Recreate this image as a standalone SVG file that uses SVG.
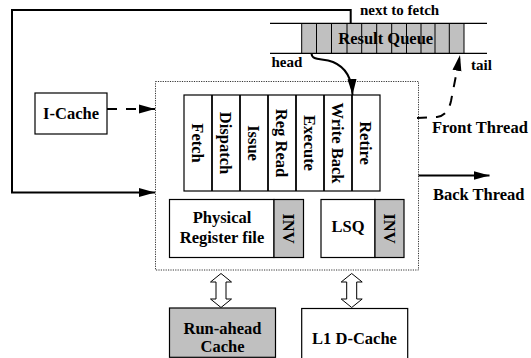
<svg xmlns="http://www.w3.org/2000/svg" width="531" height="358" viewBox="0 0 531 358">
  <style>
    text { font-family: "Liberation Serif", "Times New Roman", serif; font-weight: bold; fill: #000; }
    .lbl { font-size: 16.5px; }
    .sm { font-size: 15px; }
    .box { fill: #fff; stroke: #000; stroke-width: 1.2; }
    .gray { fill: #c0c0c0; stroke: #000; stroke-width: 1.2; }
    .div { stroke: #000; stroke-width: 1.8; }
    .wire { fill: none; stroke: #000; stroke-width: 2; }
    .dash { fill: none; stroke: #000; stroke-width: 2; stroke-dasharray: 10 9; }
    .dbl { fill: #fff; stroke: #000; stroke-width: 1; }
  </style>
  <defs>
    <marker id="head" markerUnits="userSpaceOnUse" markerWidth="16" markerHeight="10" refX="16" refY="5" orient="auto">
      <path d="M0,0.5 L16,5 L0,9.5 Z" fill="#000"/>
    </marker>
  </defs>

  <rect width="531" height="358" fill="#fff"/>

  <!-- core boundary (dotted) -->
  <g id="core">
    <rect x="155.5" y="81.5" width="263" height="188.5" fill="none" stroke="#333" stroke-width="1" stroke-dasharray="1.2 1.2"/>
  </g>

  <!-- result queue -->
  <g id="result-queue">
    <rect x="301.7" y="23.3" width="162.3" height="30" fill="#c0c0c0"/>
    <line x1="270" y1="23.3" x2="487" y2="23.3" stroke="#000" stroke-width="1.2"/>
    <line x1="270" y1="53.3" x2="487" y2="53.3" stroke="#000" stroke-width="1.2"/>
    <g stroke="#000" stroke-width="1">
      <line x1="301.7" y1="23.3" x2="301.7" y2="53.3"/>
      <line x1="316.5" y1="23.3" x2="316.5" y2="53.3"/>
      <line x1="331.5" y1="23.3" x2="331.5" y2="53.3"/>
      <line x1="347" y1="23.3" x2="347" y2="53.3"/>
      <line x1="361.7" y1="23.3" x2="361.7" y2="53.3"/>
      <line x1="376.7" y1="23.3" x2="376.7" y2="53.3"/>
      <line x1="391.7" y1="23.3" x2="391.7" y2="53.3"/>
      <line x1="406.5" y1="23.3" x2="406.5" y2="53.3"/>
      <line x1="421" y1="23.3" x2="421" y2="53.3"/>
      <line x1="435" y1="23.3" x2="435" y2="53.3"/>
      <line x1="449.3" y1="23.3" x2="449.3" y2="53.3"/>
      <line x1="464" y1="23.3" x2="464" y2="53.3"/>
    </g>
    <text class="lbl" x="385.7" y="43.5" text-anchor="middle" fill="#111">Result Queue</text>
    <text class="sm" x="360" y="15">next to fetch</text>
    <text class="sm" x="271.5" y="66.5">head</text>
    <text class="sm" x="471" y="69.5">tail</text>
  </g>

  <!-- I-Cache -->
  <g id="icache">
    <rect class="box" x="35" y="93" width="72" height="41"/>
    <text class="lbl" x="71" y="118.5" text-anchor="middle">I-Cache</text>
  </g>

  <!-- pipeline stages -->
  <g id="pipeline">
    <rect class="box" x="184" y="95" width="196" height="96"/>
    <line class="div" x1="212" y1="95" x2="212" y2="191"/>
    <line class="div" x1="240" y1="95" x2="240" y2="191"/>
    <line class="div" x1="268" y1="95" x2="268" y2="191"/>
    <line class="div" x1="296" y1="95" x2="296" y2="191"/>
    <line class="div" x1="324" y1="95" x2="324" y2="191"/>
    <line class="div" x1="352" y1="95" x2="352" y2="191"/>
    <g class="lbl" text-anchor="middle">
      <text transform="translate(198,143) rotate(90)" y="6">Fetch</text>
      <text transform="translate(226,143) rotate(90)" y="6">Dispatch</text>
      <text transform="translate(254,143) rotate(90)" y="6">Issue</text>
      <text transform="translate(282,143) rotate(90)" y="6">Reg Read</text>
      <text transform="translate(310,143) rotate(90)" y="6">Execute</text>
      <text transform="translate(338,143) rotate(90)" y="6">Write Back</text>
      <text transform="translate(366,143) rotate(90)" y="6">Retire</text>
    </g>
  </g>

  <!-- physical register file -->
  <g id="prf">
    <rect class="box" x="169.5" y="199.5" width="104.5" height="58"/>
    <rect class="gray" x="274" y="199.5" width="29.5" height="58"/>
    <text class="lbl" x="222" y="222.5" text-anchor="middle">Physical</text>
    <text class="lbl" x="222" y="243" text-anchor="middle">Register file</text>
    <text class="lbl" transform="translate(288.7,228.5) rotate(90)" y="6" text-anchor="middle">INV</text>
  </g>

  <!-- load/store queue -->
  <g id="lsq">
    <rect class="box" x="321" y="199.5" width="54" height="58"/>
    <rect class="gray" x="375" y="199.5" width="29" height="58"/>
    <text class="lbl" x="348" y="232" text-anchor="middle">LSQ</text>
    <text class="lbl" transform="translate(389.5,228.5) rotate(90)" y="6" text-anchor="middle">INV</text>
  </g>

  <!-- run-ahead cache -->
  <g id="runahead-cache">
    <rect class="gray" x="169.5" y="308" width="106" height="49.3"/>
    <text class="lbl" x="222.5" y="333.5" text-anchor="middle">Run-ahead</text>
    <text class="lbl" x="222.5" y="352" text-anchor="middle">Cache</text>
  </g>

  <!-- L1 data cache -->
  <g id="l1d-cache">
    <rect class="box" x="301.7" y="308.5" width="106" height="56"/>
    <text class="lbl" x="354.5" y="343.5" text-anchor="middle">L1 D-Cache</text>
  </g>

  <!-- connectors -->
  <g id="connectors">
    <!-- next-to-fetch feedback into the core -->
    <path class="wire" d="M350.7,23.3 L350.7,10 L12,10 L12,192.5 L155,192.5" marker-end="url(#head)"/>
    <!-- I-Cache to core -->
    <path class="dash" d="M107,109 L155,109" marker-end="url(#head)"/>
    <!-- queue head to write back -->
    <path class="wire" d="M311.5,53.5 C312,61 322,58 333,62 C345,67 352,78 352.5,95" marker-end="url(#head)"/>
    <!-- front thread to queue tail -->
    <path class="dash" d="M417,118 L437,117 C445,116 449,110 451,101 L460,55" marker-end="url(#head)"/>
    <!-- back thread out -->
    <path class="wire" d="M418.5,175.5 L489.5,175.5" marker-end="url(#head)"/>
    <!-- bidirectional memory links -->
    <polygon class="dbl" points="221,273.5 231.5,282 226,282 226,299 231.5,299 221,307.5 210.5,299 216,299 216,282 210.5,282"/>
    <polygon class="dbl" points="351.7,273.5 362.2,282 356.7,282 356.7,299 362.2,299 351.7,307.5 341.2,299 346.7,299 346.7,282 341.2,282"/>
  </g>

  <!-- thread labels -->
  <g id="thread-labels">
    <text class="lbl" x="432" y="133">Front Thread</text>
    <text class="lbl" x="433" y="200">Back Thread</text>
  </g>
</svg>
